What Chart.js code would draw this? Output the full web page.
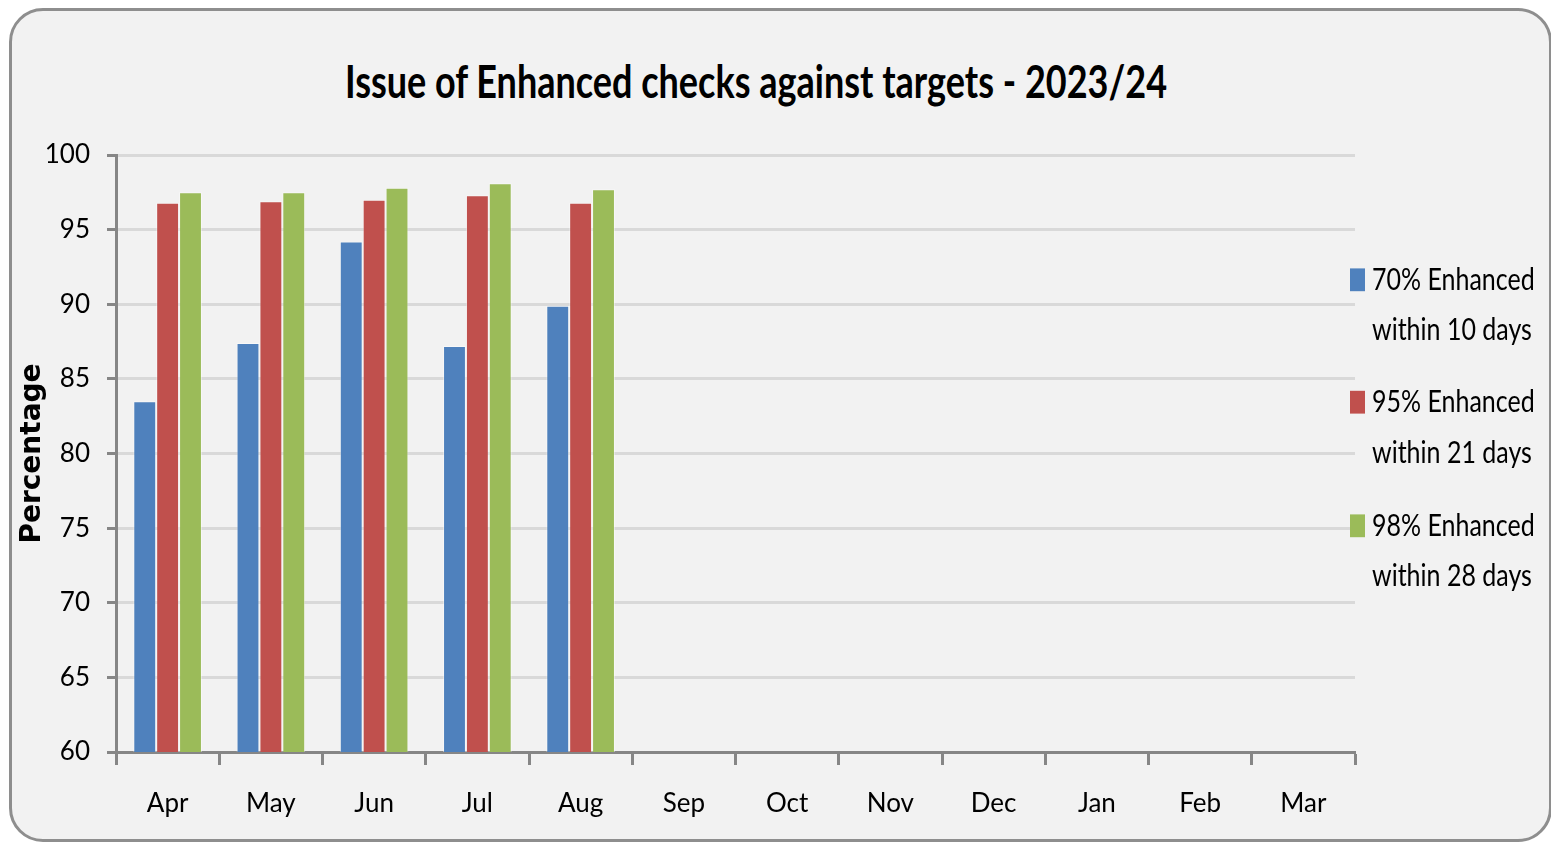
<!DOCTYPE html>
<html lang="en">
<head>
    <meta charset="UTF-8">
    <title>Issue of Enhanced checks against targets - 2023/24</title>
    <style>
        html, body { margin: 0; padding: 0; background: #ffffff; }
        body { width: 1551px; height: 843px; position: relative; overflow: hidden;
               font-family: Lato, "Open Sans", sans-serif; color: #000; }
        .frame { position: absolute; left: 9px; top: 8px; width: 1537px; height: 828px;
                 border: 3px solid #8e8e8e; border-radius: 34px; background: #f2f2f2; }
        .chart-title { position: absolute; margin: 0; left: 0; width: 1512px; top: 51px;
                       text-align: center; font-size: 36px; font-weight: bold; line-height: 46px;
                       transform: scaleY(1.27); transform-origin: center top; }
        .legend { position: absolute; left: 1350px; top: 254px; margin: 0; padding: 0; list-style: none;
                  transform: scaleY(1.2); transform-origin: left top; }
        .legend li { position: relative; padding-left: 22px; height: 83.3px; margin-bottom: 19.2px;
                     font-size: 25px; line-height: 41.7px; white-space: nowrap; }
        .legend span { position: absolute; left: 0; top: 11.7px; width: 15px; height: 19.2px; }
    </style>
</head>

<body>
    <div class="frame"></div>
    <h1 class="chart-title">Issue of Enhanced checks against targets - 2023/24</h1>

    <div class="chart-container" style="position: absolute; left: 0; top: 0; height: 843px; width: 1551px">
        <canvas id="enhancedChecks"></canvas>
    </div>

    <ul class="legend">
        <li><span style="background:#4f81bd"></span>70% Enhanced<br>within 10 days</li>
        <li><span style="background:#c0504d"></span>95% Enhanced<br>within 21 days</li>
        <li><span style="background:#9bbb59"></span>98% Enhanced<br>within 28 days</li>
    </ul>

    <script src="https://cdn.jsdelivr.net/npm/chart.js"></script>
    <script>
        // months of the 2023/24 year, only Apr-Aug reported so far
        const months = ['Apr', 'May', 'Jun', 'Jul', 'Aug', 'Sep', 'Oct', 'Nov', 'Dec', 'Jan', 'Feb', 'Mar'];
        const within10Days = [83.5, 87.4, 94.2, 87.2, 89.9, null, null, null, null, null, null, null];
        const within21Days = [96.8, 96.9, 97.0, 97.3, 96.8, null, null, null, null, null, null, null];
        const within28Days = [97.5, 97.5, 97.8, 98.1, 97.7, null, null, null, null, null, null, null];
        const yTicks = [60, 65, 70, 75, 80, 85, 90, 95, 100];

        const tickFont = { family: 'Lato, "Open Sans", sans-serif', size: 26 };
        const axisGrey = '#868686';

        const config = {
            type: 'bar',
            data: {
                labels: months,
                datasets: [
                    { label: '70% Enhanced within 10 days', data: within10Days, backgroundColor: '#4f81bd' },
                    { label: '95% Enhanced within 21 days', data: within21Days, backgroundColor: '#c0504d' },
                    { label: '98% Enhanced within 28 days', data: within28Days, backgroundColor: '#9bbb59' }
                ]
            },
            options: {
                responsive: true,
                maintainAspectRatio: false,
                animation: false,
                datasets: {
                    bar: {
                        categoryPercentage: 0.665,
                        barPercentage: 1.0,
                        borderWidth: 1,
                        borderColor: 'rgba(255,255,255,0.45)'
                    }
                },
                layout: { padding: { left: 12, right: 196, top: 155, bottom: 0 } },
                plugins: {
                    legend: { display: false },
                    tooltip: { enabled: false }
                },
                scales: {
                    x: {
                        grid: {
                            offset: true,
                            drawOnChartArea: false,
                            drawTicks: true,
                            tickLength: 13,
                            tickWidth: 3,
                            tickColor: axisGrey,
                            color: axisGrey
                        },
                        border: { color: axisGrey, width: 3 },
                        ticks: { font: tickFont, color: '#000', padding: 23 },
                        afterFit: scale => { scale.height = 91; }
                    },
                    y: {
                        min: 60,
                        max: 100,
                        afterBuildTicks: scale => { scale.ticks = yTicks.map(v => ({ value: v })); },
                        grid: {
                            color: '#d9d9d9',
                            lineWidth: 3,
                            tickLength: 9,
                            tickWidth: 3,
                            tickColor: axisGrey
                        },
                        border: { color: axisGrey, width: 3 },
                        ticks: { font: tickFont, color: '#000', padding: 17 },
                        title: {
                            display: true,
                            text: 'Percentage',
                            color: '#000',
                            font: { family: '"DejaVu Sans", Verdana, sans-serif', size: 28, weight: 'bold' },
                            padding: { top: 4, bottom: 0 }
                        },
                        afterFit: scale => { scale.width = 104; }
                    }
                }
            }
        };

        const ctx = document.querySelector('#enhancedChecks');
        const enhancedChart = new Chart(ctx, config);
    </script>
</body>

</html>
